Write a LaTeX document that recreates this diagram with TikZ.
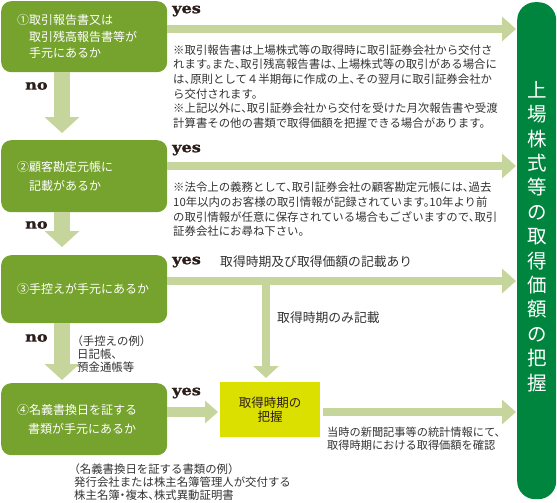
\documentclass[tikz,border=0pt]{standalone}
\usepackage{fontspec}
\setmainfont{Noto Sans CJK JP}[RawFeature=+halt]
\newfontfamily\yesfont{DejaVu Serif}[UprightFont=* Bold, FakeStretch=1.15, FakeBold=1.6]
\usetikzlibrary{arrows.meta}
\definecolor{boxgreen}{HTML}{76A22E}
\definecolor{bargreen}{HTML}{C5D59B}
\definecolor{darkgreen}{HTML}{00853F}
\definecolor{yellowbox}{HTML}{DCE000}
\definecolor{txt}{HTML}{333333}
\definecolor{yn}{HTML}{2B1E1A}
\tikzset{
  qbox/.style={fill=boxgreen, rounded corners=10pt, text=white, align=left,
    anchor=north west, text width=134pt, inner xsep=16pt, inner ysep=0pt},
  note/.style={text=txt, align=left, anchor=west, inner sep=0pt,
    font=\fontsize{11.4pt}{14.6pt}\selectfont},
  lbl/.style={text=txt, anchor=west, inner sep=0pt, font=\fontsize{12.8pt}{15pt}\selectfont},
  ynlbl/.style={text=yn, anchor=west, inner sep=0pt, font=\yesfont\fontsize{14pt}{14pt}\selectfont},
  downarr/.style={draw=bargreen, line width=16pt, -{Triangle[width=34pt,length=16pt]}},
  rightarr/.style={draw=bargreen, line width=8pt, -{Triangle[width=24pt,length=14pt]}},
  vertarr/.style={draw=bargreen, line width=8pt, -{Triangle[width=25pt,length=12pt]}},
  yesarr/.style={draw=bargreen, line width=10pt, -{Triangle[width=22pt,length=13pt]}},
}
\begin{document}
\begin{tikzpicture}[x=1pt,y=-1pt]
\useasboundingbox (0,0) rectangle (557,503);

% question boxes
\node[qbox, minimum height=71pt, font=\fontsize{12pt}{16.5pt}\selectfont] (b1) at (1,1)
  {①取引報告書又は\\\hspace*{1em}取引残高報告書等が\\\hspace*{1em}手元にあるか};
\node[qbox, minimum height=72pt, font=\fontsize{12pt}{19pt}\selectfont] (b2) at (1,140)
  {②顧客勘定元帳に\\\hspace*{1em}記載があるか};
\node[qbox, minimum height=68pt, font=\fontsize{12pt}{16pt}\selectfont] (b3) at (1,255)
  {③手控えが手元にあるか};
\node[qbox, minimum height=72pt, font=\fontsize{12pt}{19pt}\selectfont] (b4) at (1,383)
  {④名義書換日を証する\\\hspace*{0.9em}書類が手元にあるか};

% yellow box
\node[fill=yellowbox, anchor=north west, minimum width=100pt, minimum height=55pt,
  inner sep=0pt, align=center, text=yn, font=\fontsize{12.5pt}{13.5pt}\selectfont] (Y) at (220,382)
  {取得時期の\\把握};

% right result box
\node[fill=darkgreen, rounded corners=18pt, anchor=north west, minimum width=39pt,
  minimum height=497pt, inner sep=0pt] (R) at (517,2) {};
\node[text=white, align=center, inner sep=0pt, font=\fontsize{19.5pt}{24.4pt}\selectfont]
  (Rt) at (537,236.5) {上\\場\\株\\式\\等\\の\\取\\得\\価\\額\\の\\把\\握};

% coordinates for connectors
\coordinate (dc) at (62,0);
\coordinate (c1) at (0,29);
\coordinate (c2) at (0,166);
\coordinate (c3) at (0,281);
\coordinate (c4) at (0,412);
\coordinate (j) at (266,281);

% down arrows
\draw[downarr, shorten >=7pt] (b1.south -| dc) -- (b2.north -| dc);
\draw[downarr, shorten >=8pt] (b2.south -| dc) -- (b3.north -| dc);
\draw[downarr, shorten >=3pt] (b3.south -| dc) -- (b4.north -| dc);

% yes arrows
\draw[rightarr, shorten >=1pt] (b1.east |- c1) -- (R.west |- c1);
\draw[rightarr, shorten >=1pt] (b2.east |- c2) -- (R.west |- c2);
\draw[rightarr, shorten >=1pt] (b3.east |- c3) -- (R.west |- c3);
\draw[vertarr, shorten >=4pt] (j) -- (Y.north -| j);
\draw[yesarr, shorten >=2pt] (b4.east |- c4) -- (Y.west |- c4);
\draw[rightarr, shorten <=3pt, shorten >=1pt] (Y.east |- c4) -- (R.west |- c4);

% yes / no labels
\node[ynlbl] (y1) at (172,11) {yes};
\node[ynlbl] (y2) at (172,150) {yes};
\node[ynlbl] (y3) at (172,262) {yes};
\node[ynlbl] (y4) at (172,393) {yes};
\node[ynlbl] (n1) at (25,86) {no};
\node[ynlbl] (n2) at (25,225) {no};
\node[ynlbl] (n3) at (25,338) {no};

% notes
\node[note] (t1) at (173,86.5)
  {※取引報告書は上場株式等の取得時に取引証券会社から交付さ\\
   れます。また、取引残高報告書は、上場株式等の取引がある場合に\\
   は、原則として４半期毎に作成の上、その翌月に取引証券会社か\\
   ら交付されます。\\
   ※上記以外に、取引証券会社から交付を受けた月次報告書や受渡\\
   計算書その他の書類で取得価額を把握できる場合があります。};
\node[note] (t2) at (173,209.5)
  {※法令上の義務として、取引証券会社の顧客勘定元帳には、過去\\
   10年以内のお客様の取引情報が記録されています。10年より前\\
   の取引情報が任意に保存されている場合もございますので、取引\\
   証券会社にお尋ね下さい。};
\node[lbl] (t3) at (220,262) {取得時期及び取得価額の記載あり};
\node[lbl] (t4) at (277,318) {取得時期のみ記載};
\node[note, font=\fontsize{11.4pt}{13pt}\selectfont] (t5) at (77,354)
  {（手控えの例）\\日記帳、\\預金通帳等};
\node[note, font=\fontsize{11.2pt}{12.8pt}\selectfont] (t6) at (327,438.5)
  {当時の新聞記事等の統計情報にて、\\取得時期における取得価額を確認};
\node[note, font=\fontsize{11.4pt}{13pt}\selectfont] (t7) at (74,482)
  {（名義書換日を証する書類の例）\\発行会社または株主名簿管理人が交付する\\株主名簿・複本、株式異動証明書};
\end{tikzpicture}
\end{document}
